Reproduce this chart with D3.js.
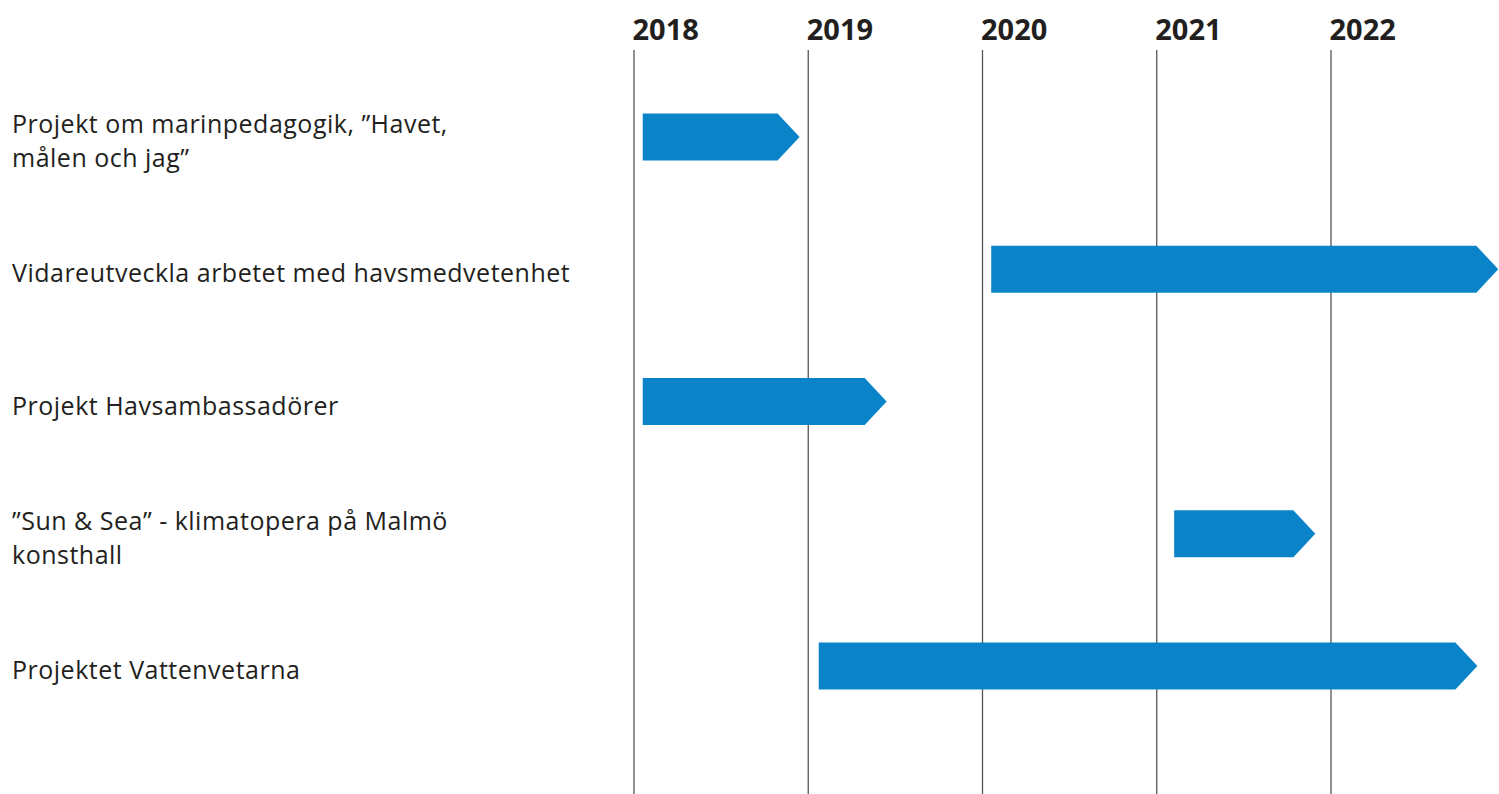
<!DOCTYPE html>
<html>
<head>
<meta charset="utf-8">
<script src="https://cdn.jsdelivr.net/npm/d3@7/dist/d3.min.js"></script>
<style>
  html, body { margin: 0; padding: 0; background: #fff; }
  svg { display: block; }
</style>
</head>
<body>
<svg id="chart" width="1499" height="794"></svg>
<script>
// ---- data ----
const projects = [
  "Projekt om marinpedagogik, ”Havet,\nmålen och jag”",
  "Vidareutveckla arbetet med havsmedvetenhet",
  "Projekt Havsambassadörer",
  "”Sun & Sea” - klimatopera på Malmö\nkonsthall",
  "Projektet Vattenvetarna"
];
const startYear = [2018.05, 2020.05, 2018.05, 2021.10, 2019.06];
const endYear   = [2018.95, 2022.96, 2019.45, 2021.91, 2022.84];
const yearTicks = [2018, 2019, 2020, 2021, 2022];

// ---- layout ----
const W = 1499, H = 794;
const svg = d3.select("#chart");
const x = d3.scaleLinear().domain([2018, 2022]).range([634, 1331]);
const y = d3.scalePoint().domain(projects).range([137, 666]);
const barH = 47, tipW = 22;
const blue = "#0a83c9";
const ink = "#231f20";

// year labels
const xAxis = d3.axisTop(x).tickValues(yearTicks).tickFormat(d3.format("d")).tickSize(0);
const gx = svg.append("g").attr("transform", "translate(0,40)").call(xAxis);
gx.select(".domain").remove();
gx.selectAll("text")
  .attr("text-anchor", "start")
  .attr("dx", -2)
  .attr("dy", 0)
  .attr("y", 0)
  .style("font-family", "'Open Sans', sans-serif")
  .style("font-weight", 700)
  .style("font-size", "29px")
  .style("fill", ink);

// vertical year lines
svg.append("g").selectAll("line")
  .data(yearTicks)
  .join("line")
  .attr("x1", d => x(d)).attr("x2", d => x(d))
  .attr("y1", 50).attr("y2", H)
  .attr("stroke", "#555")
  .attr("stroke-width", 1.3);

// bars (arrow shapes)
const rows = projects.map((p, i) => ({ p, s: startYear[i], e: endYear[i] }));
svg.append("g").selectAll("path")
  .data(rows)
  .join("path")
  .attr("fill", blue)
  .attr("d", d => {
    const x0 = x(d.s), x1 = x(d.e), yc = y(d.p);
    const t = yc - barH / 2, b = yc + barH / 2;
    const path = d3.path();
    path.moveTo(x0, t);
    path.lineTo(x1 - tipW, t);
    path.lineTo(x1, yc);
    path.lineTo(x1 - tipW, b);
    path.lineTo(x0, b);
    path.closePath();
    return path.toString();
  });

// labels
const lineH = 34;
const lab = svg.append("g").selectAll("text")
  .data(rows)
  .join("text")
  .attr("x", 12)
  .style("font-family", "'Open Sans', sans-serif")
  .style("font-size", "25px")
  .style("letter-spacing", "0.5px")
  .style("fill", ink);
lab.each(function(d) {
  const lines = d.p.split("\n");
  const n = lines.length;
  const base = y(d.p) + 13;
  const first = base - (n - 1) * lineH / 2;
  d3.select(this).selectAll("tspan")
    .data(lines)
    .join("tspan")
    .attr("x", 12)
    .attr("y", (l, i) => first + i * lineH)
    .text(l => l);
});
</script>
</body>
</html>
